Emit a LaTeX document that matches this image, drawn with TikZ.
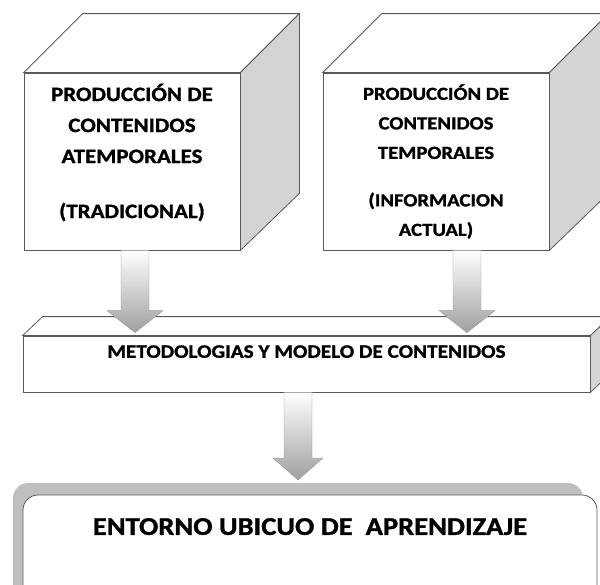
\documentclass[tikz,border=0pt]{standalone}
\usepackage{fontspec}
\setmainfont{Carlito}[FakeStretch=1.12,BoldFeatures={FakeBold=1.2}]
\usetikzlibrary{calc,positioning}

\definecolor{edgegray}{HTML}{595959}
\definecolor{sidegray}{HTML}{D4D4D4}
\definecolor{shadowgray}{HTML}{BFBFBF}

\newcommand{\blockarrow}[3]{% start, tip, half width of head
  \path[arrowbody] let \p1=(#1), \p2=(#2) in
    (\x1-14pt,\y1) -- (\x1+14pt,\y1) -- (\x1+14pt,\y2+22pt) -- (\x1+#3,\y2+22pt)
    -- (\x1,\y2) -- (\x1-#3,\y2+22pt) -- (\x1-14pt,\y2+22pt) -- cycle;}

\begin{document}
\begin{tikzpicture}[x=1pt,y=1pt,
  front/.style={draw=edgegray,thick,fill=white,inner sep=0pt},
  sideface/.style={draw=edgegray,thick,fill=sidegray},
  topface/.style={draw=edgegray,thick,fill=white},
  arrowbody/.style={draw=gray!80,top color=white,bottom color=gray!75},
  cubetext/.style={align=center,font=\bfseries\fontsize{20.5}{31}\selectfont}]

  \useasboundingbox (0,0) rectangle (600,-584);

  % the two cubes
  \node[front,minimum width=216,minimum height=177] (atemp) at (132,-161.5) {};
  \node[front,minimum width=226,minimum height=177] (temp) at (436,-161.5) {};
  \foreach \c in {atemp,temp} {
    \draw[topface] (\c.north west) -- ++(59,59) -- ($(\c.north east)+(59,59)$) -- (\c.north east) -- cycle;
    \draw[sideface] (\c.north east) -- ++(59,59) -- ($(\c.south east)+(59,57)$) -- (\c.south east) -- cycle;
  }
  \node[cubetext] (atemptext) at ([yshift=9]atemp.center)
    {PRODUCCIÓN DE\\CONTENIDOS\\ATEMPORALES\\[24pt](TRADICIONAL)};
  \node[cubetext,font=\bfseries\fontsize{18.5}{29.5}\selectfont] (temptext) at (temp.center)
    {PRODUCCIÓN DE\\CONTENIDOS\\TEMPORALES\\[18pt](INFORMACION\\ACTUAL)};

  % the bar
  \node[front,minimum width=567,minimum height=56] (metod) at (306.5,-364) {};
  \draw[topface] (metod.north west) -- ++(20,19) -- ($(metod.north east)+(20,19)$) -- (metod.north east) -- cycle;
  \draw[sideface] (metod.north east) -- ++(20,19) -- ($(metod.south east)+(20,19)$) -- (metod.south east) -- cycle;
  \node[font=\bfseries\fontsize{19}{22}\selectfont] (metodlabel) at ([yshift=-16]metod.north)
    {METODOLOGIAS Y MODELO DE CONTENIDOS};

  % arrows into the bar
  \coordinate (tipa) at ([xshift=3,yshift=3]atemp.south |- metod.north);
  \coordinate (tipb) at ([xshift=31,yshift=3]temp.south |- metod.north);
  \blockarrow{[xshift=3]atemp.south}{tipa}{28pt}
  \blockarrow{[xshift=31]temp.south}{tipb}{28pt}

  % learning environment
  \fill[shadowgray,rounded corners=15] (13,-483) rectangle (583,-640);
  \node[draw=edgegray,thick,fill=white,rounded corners=15,inner sep=0pt,
    minimum width=574,minimum height=140] (entorno) at (310,-565) {};
  \node[font=\bfseries\fontsize{25.5}{28}\selectfont] (entornolabel) at ([yshift=-32]entorno.north)
    {ENTORNO UBICUO DE \ APRENDIZAJE};

  \coordinate (tipc) at ([xshift=-8.5]metod.south |- 0,-480);
  \blockarrow{[xshift=-8.5]metod.south}{tipc}{25pt}
\end{tikzpicture}
\end{document}
